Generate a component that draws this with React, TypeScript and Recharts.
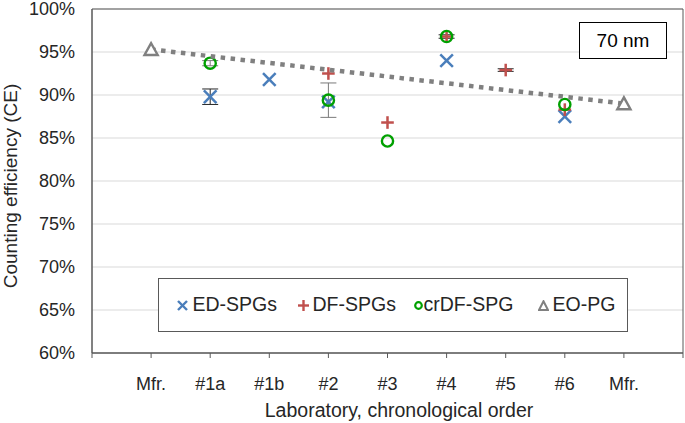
import React from 'react';
import {
  ScatterChart,
  Scatter,
  XAxis,
  YAxis,
  CartesianGrid,
  ErrorBar,
  Legend,
  ReferenceArea,
  Label,
} from 'recharts';

// Category labels (x positions 1..9)
const categories = ['Mfr.', '#1a', '#1b', '#2', '#3', '#4', '#5', '#6', 'Mfr.'];
const yTicks = [60, 65, 70, 75, 80, 85, 90, 95, 100];
const xTicks = [0, 1, 2, 3, 4, 5, 6, 7, 8, 9, 10];

// ED-SPGs
const edIdx = [1, 2, 3, 5, 7];
const edCE = [89.8, 91.8, 89.2, 94.0, 87.5];
const edErr = [0.9, null, null, null, null];

// DF-SPGs
const dfIdx = [3, 4, 5, 6, 7];
const dfCE = [92.5, 86.8, 96.8, 92.9, 88.3];
const dfErr = [null, null, 0.2, 0.15, null];

// crDF-SPG
const crIdx = [1, 3, 4, 5, 7];
const crCE = [93.7, 89.4, 84.65, 96.8, 88.9];
const crErr = [0.3, 2.0, null, null, null];

// EO-PG (manufacturer, before and after)
const eoIdx = [0, 8];
const eoCE = [95.3, 89.0];

const build = (idx: number[], ce: number[], err: (number | null)[] | null) =>
  idx.map((c, i) => ({
    x: c + 1,
    y: ce[i],
    err: err && err[i] != null ? err[i] : undefined,
  }));

const edData = build(edIdx, edCE, edErr);
const dfData = build(dfIdx, dfCE, dfErr);
const crData = build(crIdx, crCE, crErr);
const eoData = build(eoIdx, eoCE, null);

const BLUE = '#4a7ebb';
const RED = '#c0504d';
const GREEN = '#00a000';
const GRAY = '#808080';
const AXIS = '#595959';
const TEXT = '#262626';
const FONT = '"Liberation Sans", Arial, sans-serif';

const XMark = (p: any) => {
  const { cx, cy } = p;
  if (cx == null || cy == null) return <g />;
  const s = 6.3;
  return (
    <g stroke={BLUE} strokeWidth={2.5}>
      <line x1={cx - s} y1={cy - s} x2={cx + s} y2={cy + s} />
      <line x1={cx - s} y1={cy + s} x2={cx + s} y2={cy - s} />
    </g>
  );
};

const PlusMark = (p: any) => {
  const { cx, cy } = p;
  if (cx == null || cy == null) return <g />;
  const s = 6.3;
  return (
    <g stroke={RED} strokeWidth={2.5}>
      <line x1={cx - s} y1={cy} x2={cx + s} y2={cy} />
      <line x1={cx} y1={cy - s} x2={cx} y2={cy + s} />
    </g>
  );
};

const CircleMark = (p: any) => {
  const { cx, cy } = p;
  if (cx == null || cy == null) return <g />;
  return <circle cx={cx} cy={cy} r={5.6} fill="none" stroke={GREEN} strokeWidth={2.4} />;
};

const TriMark = (p: any) => {
  const { cx, cy } = p;
  if (cx == null || cy == null) return <g />;
  const pts = `${cx},${cy - 6.3} ${cx - 6.6},${cy + 5.6} ${cx + 6.6},${cy + 5.6}`;
  return <polygon points={pts} fill="#ffffff" stroke={GRAY} strokeWidth={2.4} strokeLinejoin="miter" />;
};

const legendItems = [
  { name: 'ED-SPGs', icon: 'x', iconLeft: 17.5, textLeft: 33.5 },
  { name: 'DF-SPGs', icon: '+', iconLeft: 138.5, textLeft: 153.5 },
  { name: 'crDF-SPG', icon: 'o', iconLeft: 255, textLeft: 264.5 },
  { name: 'EO-PG', icon: 't', iconLeft: 378.5, textLeft: 393.5 },
];

const LegendIcon = ({ kind }: { kind: string }) => {
  if (kind === 'x')
    return (
      <svg width={11} height={11}>
        <g stroke={BLUE} strokeWidth={2.4}>
          <line x1={1} y1={1} x2={10} y2={10} />
          <line x1={1} y1={10} x2={10} y2={1} />
        </g>
      </svg>
    );
  if (kind === '+')
    return (
      <svg width={11} height={11}>
        <g stroke={RED} strokeWidth={2.4}>
          <line x1={0} y1={5.5} x2={11} y2={5.5} />
          <line x1={5.5} y1={0} x2={5.5} y2={11} />
        </g>
      </svg>
    );
  if (kind === 'o')
    return (
      <svg width={9} height={9}>
        <circle cx={4.5} cy={4.5} r={3.3} fill="none" stroke={GREEN} strokeWidth={2.2} />
      </svg>
    );
  return (
    <svg width={11} height={11}>
      <polygon points="5.5,1.2 1,10 10,10" fill="#fff" stroke={GRAY} strokeWidth={2} />
    </svg>
  );
};

const LegendBox = () => (
  <div
    style={{
      position: 'relative',
      width: 468,
      height: 52,
      border: `1px solid ${AXIS}`,
      background: '#ffffff',
      fontFamily: FONT,
      fontSize: 19.5,
      color: TEXT,
    }}
  >
    {legendItems.map((it) => (
      <React.Fragment key={it.name}>
        <div
          style={{
            position: 'absolute',
            left: it.iconLeft,
            top: 0,
            height: 52,
            display: 'flex',
            alignItems: 'center',
          }}
        >
          <LegendIcon kind={it.icon} />
        </div>
        <div
          style={{
            position: 'absolute',
            left: it.textLeft,
            top: 0,
            height: 52,
            display: 'flex',
            alignItems: 'center',
            whiteSpace: 'nowrap',
            lineHeight: 1,
          }}
        >
          {it.name}
        </div>
      </React.Fragment>
    ))}
  </div>
);

export default function App() {
  return (
    <div style={{ position: 'absolute', left: 0, top: 0, width: 685, height: 423, background: '#fff' }}>
      <ScatterChart width={685} height={423} margin={{ top: 9, right: 2, bottom: 0, left: 0 }}>
        <CartesianGrid vertical={false} stroke="#d9d9d9" strokeWidth={1} />
        <XAxis
          type="number"
          dataKey="x"
          domain={[0, 10]}
          ticks={xTicks}
          interval={0}
          height={70}
          tickSize={5}
          tickMargin={19}
          tickFormatter={(v: number) => (v >= 1 && v <= 9 ? categories[v - 1] : '')}
          axisLine={{ stroke: AXIS, strokeWidth: 1 }}
          tickLine={{ stroke: AXIS, strokeWidth: 1 }}
          tick={{ fill: TEXT, fontSize: 18, fontFamily: FONT }}
        >
          <Label
            content={() => (
              <text x={399} y={416.5} textAnchor="middle" fill={TEXT} fontSize={19.5} fontFamily={FONT}>
                Laboratory, chronological order
              </text>
            )}
          />
        </XAxis>
        <YAxis
          type="number"
          dataKey="y"
          domain={[60, 100]}
          ticks={yTicks}
          interval={0}
          width={92}
          tickSize={0}
          tickMargin={17}
          tickFormatter={(v: number) => `${v}%`}
          axisLine={{ stroke: AXIS, strokeWidth: 1 }}
          tickLine={false}
          tick={{ fill: TEXT, fontSize: 18, fontFamily: FONT }}
        >
          <Label
            content={() => (
              <text
                x={17}
                y={186}
                transform="rotate(-90, 17, 186)"
                textAnchor="middle"
                fill={TEXT}
                fontSize={19}
                fontFamily={FONT}
              >
                Counting efficiency (CE)
              </text>
            )}
          />
        </YAxis>
        <ReferenceArea x1={0} x2={10} y1={60} y2={100} fill="none" fillOpacity={0} stroke={AXIS} strokeWidth={1} />
        <Scatter name="ED-SPGs" data={edData} shape={XMark} isAnimationActive={false}>
          <ErrorBar dataKey="err" direction="y" width={8} stroke="#262626" strokeWidth={1} />
        </Scatter>
        <Scatter name="DF-SPGs" data={dfData} shape={PlusMark} isAnimationActive={false}>
          <ErrorBar dataKey="err" direction="y" width={8} stroke="#262626" strokeWidth={1} />
        </Scatter>
        <Scatter name="crDF-SPG" data={crData} shape={CircleMark} isAnimationActive={false}>
          <ErrorBar dataKey="err" direction="y" width={8} stroke="#7a7a7a" strokeWidth={1} />
        </Scatter>
        <Scatter
          name="EO-PG"
          data={eoData}
          shape={TriMark}
          line={{ stroke: GRAY, strokeWidth: 4.5, strokeDasharray: '4.5 5.5' }}
          lineType="joint"
          isAnimationActive={false}
        />
        <Legend
          layout="horizontal"
          verticalAlign="middle"
          align="center"
          content={() => <LegendBox />}
          wrapperStyle={{ position: 'absolute', left: 158, top: 278, width: 470, height: 54 }}
        />
      </ScatterChart>
      <div
        style={{
          position: 'absolute',
          left: 579,
          top: 22,
          width: 86,
          height: 35,
          border: '1.5px solid #000',
          background: '#fff',
          display: 'flex',
          alignItems: 'center',
          justifyContent: 'center',
          fontFamily: FONT,
          fontSize: 19,
          color: '#000',
          lineHeight: 1,
        }}
      >
        70 nm
      </div>
    </div>
  );
}
